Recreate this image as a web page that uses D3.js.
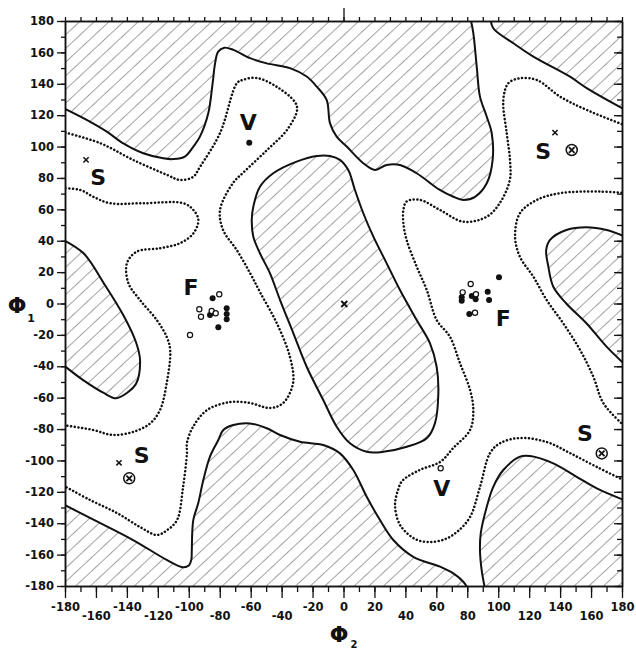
<!DOCTYPE html>
<html>
<head>
<meta charset="utf-8">
<script src="https://cdn.jsdelivr.net/npm/d3@7"></script>
<style>
body { margin: 0; background: #fff; }
svg text { font-family: "DejaVu Sans", sans-serif; font-weight: bold; fill: #111; }
</style>
</head>
<body>
<div id="chart"></div>
<script>
// All points are [phi2, phi1] in degrees.
var xTicks = d3.range(-180, 181, 20);
var yTicks = d3.range(-180, 181, 20);
var minorTicks = d3.range(-180, 181, 10);

// Hatched (forbidden) regions, solid outline.
var topBand = [[-182,125],[-166,117],[-153,109.5],[-142.3,102],[-129.4,95.7],[-116.5,92.5],[-110,92],[-102.5,93.6],[-97,100],[-92.8,106.3],[-87.4,121.2],[-84.6,140.3],[-83,153],[-81,160.5],[-77,163],[-71.2,161.6],[-60.4,156.3],[-49.6,153],[-34.6,150],[-23.8,144.6],[-17.3,138.2],[-10.9,129.7],[-8.7,114.8],[-4.4,106.3],[2.1,100],[12.8,89.4],[20.4,85.1],[27.9,88.3],[36.5,88.3],[47.3,83],[62,72.5],[71,68],[77.4,66],[85,68],[92.6,76.6],[96.4,91.5],[95.8,108.5],[92.6,119],[88.2,131.8],[86.1,151],[83.9,172.3],[82,182]];
var topRightCap = [[95,182],[96.8,175.4],[109.8,165.8],[122.7,157.3],[146.4,144.5],[157.2,137.2],[182,123.5]];
var bottomBand = [[-182,-127.5],[-161,-138],[-136,-150.7],[-114,-163.5],[-104,-168],[-100,-167],[-98.3,-163],[-98.1,-159],[-97.1,-138],[-93.9,-127.3],[-90.6,-112.5],[-86.3,-97.6],[-80.9,-87],[-77.7,-80.6],[-71.2,-77.4],[-60.4,-76.4],[-49.6,-79.5],[-41,-83.8],[-28.1,-88.1],[-13.1,-90.2],[-2.3,-95.5],[6.3,-106.1],[15,-123.1],[23.6,-138],[32.2,-150.7],[45.1,-161.4],[62.4,-167.7],[71,-172],[77.4,-177.3],[80.7,-182]];
var bottomRightCap = [[91.5,-182],[89.3,-169.9],[88.2,-157],[88.7,-146.5],[92.6,-129.5],[96.8,-116.8],[103.3,-106.1],[114.1,-97.6],[120.6,-97.2],[135.6,-101.9],[150.7,-110.4],[163.7,-117.8],[182,-125.5]];
var centralRidge = [[-58.3,61.7],[-54,74.4],[-45.4,83],[-30.3,90.4],[-17.3,94],[-8.7,94],[-2.3,91.5],[3.1,85],[7.4,72.3],[12.8,57.5],[19.3,42.6],[27.9,25.6],[36.5,8.6],[47.3,-10.5],[55.9,-25.4],[60.2,-40.3],[61.3,-57.2],[59.1,-76.4],[53.8,-85.9],[40.9,-91.3],[25.7,-94.5],[15,-94.5],[4.2,-89.1],[-4.4,-78.5],[-13.1,-61.5],[-23.8,-40.3],[-32.4,-19],[-41,2.2],[-47.5,19.2],[-54,32],[-58.3,42.6],[-59.3,53.2]];
var leftLobe = [[-182,41],[-168,32],[-155,13],[-142,-8],[-134,-25],[-131.5,-36],[-134,-51],[-140,-57],[-147,-60.4],[-155,-57],[-168,-49],[-182,-38.5]];
var rightLobe = [[182,42.6],[170,46.8],[157,48.6],[144,46.8],[133.5,40.5],[131,34],[132.4,23.5],[135.6,10.7],[144,0],[157,-12.6],[170,-27.5],[182,-39]];

// Dotted contours.
var outerLeft = [[-182,109.5],[-157.4,102.2],[-136,91.5],[-114,81.9],[-105.7,78.7],[-97.3,80.6],[-92.8,87],[-79.8,108.6],[-68.8,140.5],[-65,142.5],[-56,143.7],[-43,138],[-31.4,128.4],[-30,123.3],[-36.5,110.6],[-49.4,97.8],[-65,83.2],[-71.4,76.8],[-79.8,59.6],[-77.8,46.8],[-69,34.1],[-60.4,19.4],[-54,7.3],[-43.2,-12.4],[-34.6,-34.1],[-32.6,-50.7],[-39,-63.4],[-47.5,-66.6],[-60.4,-63.4],[-73.3,-62.8],[-88.2,-67.9],[-97.3,-78.7],[-101.2,-88.9],[-101.2,-95.3],[-103.7,-117],[-107.6,-138],[-114,-144.4],[-120.6,-147.5],[-131.5,-142.4],[-146.4,-133.5],[-163.8,-125.2],[-182,-115.5]];
var innerLeft = [[-182,73.5],[-170,72.3],[-161.7,68],[-151,63.9],[-129.4,63.9],[-103.5,63.9],[-97,59.6],[-93.8,53.2],[-97,44.7],[-105.7,38.4],[-118.6,35.2],[-133.7,33],[-140,25.6],[-139,12.9],[-131.5,2.2],[-120.7,-10.5],[-114.3,-21.2],[-112,-29.6],[-114.3,-50.9],[-118.6,-67.9],[-125,-76.4],[-135,-81.5],[-149,-83.8],[-161.7,-80.6],[-182,-77.4]];
var outerRight = [[182,113.5],[157.2,123.3],[140,131.8],[125,142.4],[114,143.5],[106.5,140.3],[103.3,129.7],[105.5,108.5],[107.6,91.5],[107.5,78.7],[101.2,64.3],[92.6,55.3],[77.5,52.1],[62.4,59.6],[49.4,66],[40.8,65],[38.7,59.6],[38.7,51.1],[40.8,40.5],[47.3,23.5],[53.8,8.6],[60.2,-10.5],[68.8,-21.2],[75.3,-38.1],[81.8,-55.1],[83.9,-67.9],[81.8,-80.6],[71,-92],[62.4,-101],[49.4,-106],[38,-113],[35.2,-119],[33.3,-128.4],[36.5,-141],[46.2,-150],[55.9,-152],[66,-150],[74,-145],[81.8,-136],[88.2,-117],[94.7,-95.3],[101.2,-89],[114,-85.7],[131.5,-88.3],[146.4,-95.3],[163.8,-104.2],[182,-113]];
var innerRight = [[182,70.3],[165.8,71.3],[140,70.3],[125,66],[114,57.5],[110.9,42.6],[114,29.8],[122.7,17.1],[131.3,2.2],[142,-12.6],[152.9,-29.6],[161.5,-46.7],[168,-63.6],[182,-78.5]];

// Observed conformations.
var filledPoints = [[-84.6,3.3],[-86.3,-7.3],[-75.5,-3.1],[-75.5,-6.7],[-75.5,-10.1],[-80.9,-15.2],[-60.9,102.5],
                    [100.5,16.7],[76.4,4],[76.4,1.8],[82.9,4.8],[85.4,2.7],[93.2,7.5],[94.1,2.2],[81.3,-6.7]];
var openPoints = [[-80.3,5.9],[-93.2,-3.7],[-92.1,-8.4],[-85.2,-4.8],[-82.6,-6.2],[-99.2,-20.1],[62.8,-105],
                  [82.2,12.4],[77,7.1],[85.6,5.9],[85,-5.9]];
var crossPoints = [[-166.4,91.5],[136.7,108.9],[-145.1,-101.5]];
var circledCrosses = [[147.5,97.8],[-138.5,-111.4],[166.9,-95.5]];
var centreMark = [[0.5,-0.3]];
var sLabels = [[-158.5,80.8],[129,96.8],[-130.5,-96.6],[156,-82.7]];
var fLabels = [[-98.6,10.5],[103.3,-9.4]];
var vLabels = [[-61.5,115.9],[63.5,-117.8]];

var width = 636, height = 650;
var margin = {left: 65, top: 21};
var pw = 557, ph = 565;

var svg = d3.select('#chart').append('svg')
	.attr('width', width)
	.attr('height', height);

var x = d3.scaleLinear().domain([-180, 180]).range([0, pw]);
var y = d3.scaleLinear().domain([-180, 180]).range([ph, 0]);

var defs = svg.append('defs');
defs.append('clipPath').attr('id', 'plotClip')
	.append('rect').attr('width', pw).attr('height', ph);
var hatch = defs.append('pattern')
	.attr('id', 'hatch')
	.attr('patternUnits', 'userSpaceOnUse')
	.attr('width', 10).attr('height', 10)
	.attr('patternTransform', 'rotate(47)');
hatch.append('line')
	.attr('x1', 0).attr('y1', -1).attr('x2', 0).attr('y2', 11)
	.attr('stroke', '#333').attr('stroke-width', 0.9);

var g = svg.append('g')
	.attr('transform', 'translate(' + margin.left + ',' + margin.top + ')');

var line = d3.line()
	.x(function(d) { return x(d[0]); })
	.y(function(d) { return y(d[1]); })
	.curve(d3.curveCatmullRom.alpha(0.5));
var closedLine = d3.line()
	.x(function(d) { return x(d[0]); })
	.y(function(d) { return y(d[1]); })
	.curve(d3.curveCatmullRomClosed.alpha(0.5));

var plot = g.append('g').attr('clip-path', 'url(#plotClip)');

// Open regions are closed by running outside the frame (clipped away).
var regions = [
	{pts: topBand, close: [[82, 188], [-188, 188]]},
	{pts: topRightCap, close: [[188, 188]]},
	{pts: bottomBand, close: [[-188, -188]]},
	{pts: bottomRightCap, close: [[188, -188]]},
	{pts: leftLobe, close: []},
	{pts: rightLobe, close: []}
];

regions.forEach(function(r) {
	var d = line(r.pts) + r.close.map(function(p) { return 'L' + x(p[0]) + ',' + y(p[1]); }).join('') + 'Z';
	plot.append('path').attr('d', d).attr('fill', 'url(#hatch)');
	plot.append('path').attr('d', line(r.pts))
		.attr('fill', 'none').attr('stroke', '#111').attr('stroke-width', 2);
});

plot.append('path').attr('d', closedLine(centralRidge))
	.attr('fill', 'url(#hatch)')
	.attr('stroke', '#111').attr('stroke-width', 2);

// Dotted contours
[outerLeft, innerLeft, outerRight, innerRight].forEach(function(c) {
	plot.append('path').attr('d', line(c))
		.attr('fill', 'none')
		.attr('stroke', '#111')
		.attr('stroke-width', 2.5)
		.attr('stroke-linecap', 'round')
		.attr('stroke-dasharray', '0.1 3.6');
});

// Axes
var axisStyle = function(sel) {
	sel.select('.domain').attr('stroke', '#111').attr('stroke-width', 1.5);
	sel.selectAll('.tick line').attr('stroke', '#111').attr('stroke-width', 1.3);
	sel.selectAll('text').attr('font-size', 11.5).attr('fill', '#111')
		.style('font-family', '"DejaVu Sans", sans-serif').style('font-weight', 'bold');
};

g.append('g').call(d3.axisLeft(y).tickValues(minorTicks).tickSize(4).tickSizeOuter(0).tickFormat('')).call(axisStyle);
g.append('g').call(d3.axisLeft(y).tickValues(yTicks).tickSize(8).tickSizeOuter(0).tickPadding(3)
	.tickFormat(function(d) { return String(d); })).call(axisStyle);

g.append('g').attr('transform', 'translate(0,' + ph + ')')
	.call(d3.axisBottom(x).tickValues(minorTicks).tickSize(6).tickSizeOuter(0).tickFormat('')).call(axisStyle);
var bottomAxis = g.append('g').attr('transform', 'translate(0,' + ph + ')')
	.call(d3.axisBottom(x).tickValues(xTicks).tickSize(12).tickSizeOuter(0)
		.tickFormat(function(d) { return String(d); }))
	.call(axisStyle);
bottomAxis.selectAll('.tick text')
	.attr('y', function(d, i) { return (i % 2 && d !== 0) ? 26 : 17; })
	.attr('dy', '0.71em');

g.append('g')
	.call(d3.axisTop(x).tickValues(minorTicks).tickSize(4).tickSizeOuter(0).tickFormat('')).call(axisStyle);
g.append('g')
	.call(d3.axisTop(x).tickValues([0]).tickSize(13).tickSizeOuter(0).tickFormat('')).call(axisStyle);

g.append('g').attr('transform', 'translate(' + pw + ',0)')
	.call(d3.axisRight(y).tickValues(minorTicks).tickSize(-5).tickSizeOuter(0).tickFormat('')).call(axisStyle);
g.append('g').attr('transform', 'translate(' + pw + ',0)')
	.call(d3.axisRight(y).tickValues(yTicks).tickSize(-8).tickSizeOuter(0).tickFormat('')).call(axisStyle);

// Axis titles
svg.append('text').attr('x', 17).attr('y', 313).attr('text-anchor', 'middle')
	.attr('font-size', 22).text('Φ');
svg.append('text').attr('x', 31).attr('y', 322).attr('text-anchor', 'middle')
	.attr('font-size', 11).text('1');
svg.append('text').attr('x', 339).attr('y', 642).attr('text-anchor', 'middle')
	.attr('font-size', 22).text('Φ');
svg.append('text').attr('x', 354).attr('y', 648).attr('text-anchor', 'middle')
	.attr('font-size', 10).text('2');

// Markers
g.selectAll('.filled').data(filledPoints).enter().append('circle')
	.attr('cx', function(d) { return x(d[0]); })
	.attr('cy', function(d) { return y(d[1]); })
	.attr('r', 3).attr('fill', '#111');
g.selectAll('.open').data(openPoints).enter().append('circle')
	.attr('cx', function(d) { return x(d[0]); })
	.attr('cy', function(d) { return y(d[1]); })
	.attr('r', 2.6).attr('fill', '#fff').attr('stroke', '#111').attr('stroke-width', 1.2);

function cross(sel, s, w) {
	sel.append('path')
		.attr('d', 'M' + (-s) + ',' + (-s) + 'L' + s + ',' + s + 'M' + (-s) + ',' + s + 'L' + s + ',' + (-s))
		.attr('stroke', '#111').attr('stroke-width', w).attr('fill', 'none');
}
crossPoints.forEach(function(d) {
	var m = g.append('g').attr('transform', 'translate(' + x(d[0]) + ',' + y(d[1]) + ')');
	cross(m, 2.6, 1.5);
});
centreMark.forEach(function(d) {
	var m = g.append('g').attr('transform', 'translate(' + x(d[0]) + ',' + y(d[1]) + ')');
	cross(m, 3, 2);
});
circledCrosses.forEach(function(d) {
	var m = g.append('g').attr('transform', 'translate(' + x(d[0]) + ',' + y(d[1]) + ')');
	m.append('circle').attr('r', 5.5).attr('fill', '#fff').attr('stroke', '#111').attr('stroke-width', 1.5);
	cross(m, 2.8, 1.8);
});

function bigLabels(data, txt) {
	g.selectAll(null).data(data).enter().append('text')
		.attr('x', function(d) { return x(d[0]); })
		.attr('y', function(d) { return y(d[1]); })
		.attr('dy', '0.36em')
		.attr('text-anchor', 'middle')
		.attr('font-size', 22)
		.text(txt);
}
bigLabels(sLabels, 'S');
bigLabels(fLabels, 'F');
bigLabels(vLabels, 'V');
</script>
</body>
</html>
